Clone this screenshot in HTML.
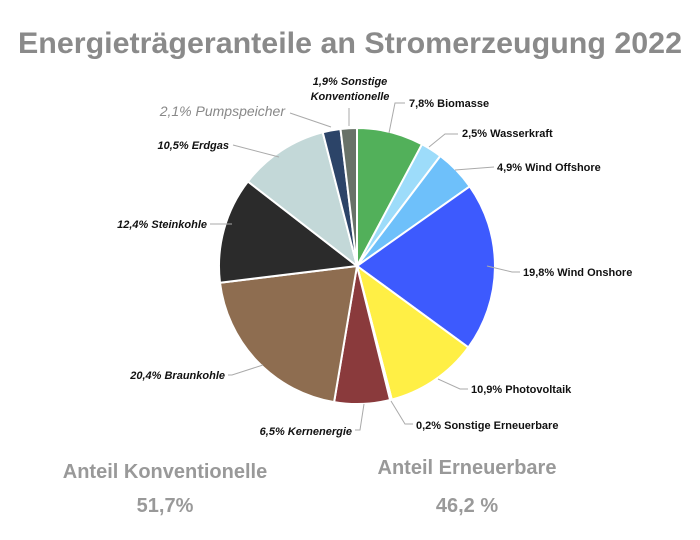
<!DOCTYPE html>
<html><head><meta charset="utf-8"><style>
body{margin:0;background:#fff;}
svg{display:block;font-family:"Liberation Sans",sans-serif;}
</style></head><body>
<svg width="700" height="540" viewBox="0 0 700 540">
<rect width="700" height="540" fill="#fff"/>
<text x="350" y="53" text-anchor="middle" font-size="30" font-weight="bold" fill="#8a8a8a" textLength="664" lengthAdjust="spacingAndGlyphs">Energieträgeranteile an Stromerzeugung 2022</text>
<g stroke="#fff" stroke-width="2" stroke-linejoin="round">
<path d="M357,266 L357,128 A138,138 0 0 1 422,144.3 Z" fill="#52b05a"/>
<path d="M357,266 L422,144.3 A138,138 0 0 1 440.3,156 Z" fill="#9ddcfa"/>
<path d="M357,266 L440.3,156 A138,138 0 0 1 469.7,186.4 Z" fill="#6ec0fa"/>
<path d="M357,266 L469.7,186.4 A138,138 0 0 1 468.4,347.4 Z" fill="#3d5afe"/>
<path d="M357,266 L468.4,347.4 A138,138 0 0 1 391.8,399.6 Z" fill="#ffef45"/>
<path d="M357,266 L391.8,399.6 A138,138 0 0 1 390.1,400 Z" fill="#f0f0e0"/>
<path d="M357,266 L390.1,400 A138,138 0 0 1 334.1,402.1 Z" fill="#8a3a3c"/>
<path d="M357,266 L334.1,402.1 A138,138 0 0 1 220,282.7 Z" fill="#8e6d50"/>
<path d="M357,266 L220,282.7 A138,138 0 0 1 247.9,181.5 Z" fill="#2b2b2b"/>
<path d="M357,266 L247.9,181.5 A138,138 0 0 1 322.7,132.3 Z" fill="#c3d8d8"/>
<path d="M357,266 L322.7,132.3 A138,138 0 0 1 340.5,129 Z" fill="#2c4468"/>
<path d="M357,266 L340.5,129 A138,138 0 0 1 357,128 Z" fill="#687268"/>
</g>
<g stroke="#aaa" stroke-width="1" fill="none">
<polyline points="389,133 395,103 405,103"/>
<polyline points="429,147 445,134 458,134"/>
<polyline points="455,170 494,167"/>
<polyline points="487,266 512,272 520,272"/>
<polyline points="438,379 460,389 468,389"/>
<polyline points="391,401 405,424 413,424"/>
<polyline points="364,404 360,430 355,430"/>
<polyline points="263,365 232,375 228,375"/>
<polyline points="232,224 210,224"/>
<polyline points="279,157 233,145"/>
<polyline points="331,127 290,113"/>
<polyline points="349,126 349,108"/>
</g>
<g font-size="11" fill="#111">
<text x="409" y="107" font-weight="bold">7,8% Biomasse</text>
<text x="462" y="137" font-weight="bold">2,5% Wasserkraft</text>
<text x="497" y="171" font-weight="bold">4,9% Wind Offshore</text>
<text x="523" y="276" font-weight="bold">19,8% Wind Onshore</text>
<text x="471" y="393" font-weight="bold">10,9% Photovoltaik</text>
<text x="416" y="429" font-weight="bold">0,2% Sonstige Erneuerbare</text>
<text x="352" y="435" text-anchor="end" font-weight="bold" font-style="italic">6,5% Kernenergie</text>
<text x="225" y="379" text-anchor="end" font-weight="bold" font-style="italic">20,4% Braunkohle</text>
<text x="207" y="228" text-anchor="end" font-weight="bold" font-style="italic">12,4% Steinkohle</text>
<text x="229" y="149" text-anchor="end" font-weight="bold" font-style="italic">10,5% Erdgas</text>
<text x="285" y="116" text-anchor="end" font-size="14" font-style="italic" fill="#888">2,1% Pumpspeicher</text>
<text x="350" y="85" text-anchor="middle" font-weight="bold" font-style="italic">1,9% Sonstige</text>
<text x="350" y="100" text-anchor="middle" font-weight="bold" font-style="italic">Konventionelle</text>
</g>
<g font-size="20" font-weight="bold" fill="#999" text-anchor="middle">
<text x="165" y="478">Anteil Konventionelle</text>
<text x="165" y="512">51,7%</text>
<text x="467" y="474">Anteil Erneuerbare</text>
<text x="467" y="512">46,2 %</text>
</g>
</svg>
</body></html>
